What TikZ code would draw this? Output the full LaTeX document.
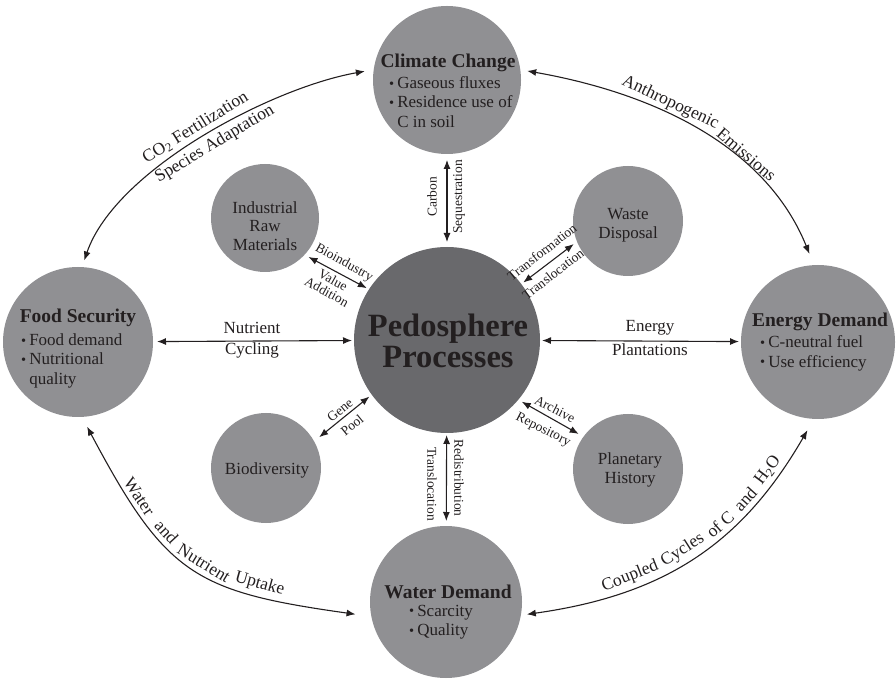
\documentclass[tikz,border=0pt]{standalone}
\usepackage{fontspec}
\setmainfont{Liberation Serif}
\usepackage{graphicx}
\usetikzlibrary{arrows.meta}
\definecolor{circgray}{RGB}{144,144,147}
\definecolor{coregray}{RGB}{105,105,108}
\definecolor{ink}{RGB}{35,31,32}
\newcommand{\fsreg}{\fontsize{17}{19.5}\selectfont}
\newcommand{\fscurve}{\fontsize{17.5}{19.5}\selectfont}
\newcommand{\fsin}{\fontsize{17}{18.5}\selectfont}
\newcommand{\fshead}{\fontsize{19.5}{22}\selectfont\bfseries}
\newcommand{\fscore}{\fontsize{32.5}{31}\selectfont\bfseries}
\newcommand{\fssmall}{\fontsize{13.5}{13}\selectfont}
\newcommand{\bul}{\raisebox{0.02em}{\scalebox{0.85}{\textbullet}}}
\begin{document}
\begin{tikzpicture}[x=1pt,y=1pt,
  circ/.style={circle, fill=circgray, draw=none, inner sep=0pt, outer sep=0pt, minimum size=#1},
  arr/.style={{Latex[length=9pt,width=7pt]}-{Latex[length=9pt,width=7pt]}, line width=1.1pt, draw=ink},
  txt/.style={text=ink, inner sep=0pt, font=\fsreg},
  intxt/.style={text=ink, inner sep=0pt, font=\fsin, align=center},
  head/.style={text=ink, inner sep=0pt, font=\fshead},
  lab/.style={text=ink, inner sep=0pt, font=\fssmall, align=center},
  clab/.style={text=ink, inner sep=1pt, font=\fscurve, sloped},
]
\useasboundingbox (0,0) rectangle (896,683);

% circles
\node[circ=186pt, fill=coregray] (core) at (447,343) {};
\node[circ=148pt] (cc) at (447,603) {};
\node[circ=152pt] (wd) at (446,81) {};
\node[circ=150pt] (fs) at (78,341) {};
\node[circ=154pt] (ed) at (818,341) {};
\node[circ=108pt] (irm) at (265,465) {};
\node[circ=110pt] (waste) at (628,462) {};
\node[circ=110pt] (bio) at (266,215) {};
\node[circ=110pt] (plan) at (628,214) {};

% texts in circles
\node[font=\fscore, text=ink, align=center, inner sep=0pt] (coretxt) at (448,342) {Pedosphere\\Processes};

\node[head] (cchead) at (448,620) {Climate Change};
\node[txt, anchor=west] (cclist) at (389,579) {\begin{tabular}{@{}l@{\hspace{3pt}}l@{}}\bul & Gaseous fluxes\\ \bul & Residence use of\\ & C in soil\end{tabular}};

\node[head] (fshead) at (78,365) {Food Security};
\node[txt, anchor=west] (fslist) at (21,322) {\begin{tabular}{@{}l@{\hspace{3pt}}l@{}}\bul & Food demand\\ \bul & Nutritional\\ & quality\end{tabular}};

\node[head] (edhead) at (820,361) {Energy Demand};
\node[txt, anchor=west] (edlist) at (760,329.5) {\begin{tabular}{@{}l@{\hspace{3pt}}l@{}}\bul & C-neutral fuel\\ \bul & Use efficiency\end{tabular}};

\node[head] (wdhead) at (448,91) {Water Demand};
\node[txt, anchor=west] (wdlist) at (409,61) {\begin{tabular}{@{}l@{\hspace{3pt}}l@{}}\bul & Scarcity\\ \bul & Quality\end{tabular}};

\node[intxt] (irmtxt) at (265,457) {Industrial\\Raw\\Materials};
\node[intxt] (wastetxt) at (628,458) {Waste\\Disposal};
\node[intxt] (biotxt) at (267,213) {Biodiversity};
\node[intxt] (plantxt) at (630,213) {Planetary\\History};

% straight connectors
\draw[arr, shorten <=4pt, shorten >=2pt] (fs) -- (core);
\draw[arr, shorten <=2pt, shorten >=2pt] (core) -- (ed);
\draw[arr, shorten <=5pt, shorten >=6pt] (core) -- (cc);
\draw[arr, shorten <=2pt, shorten >=5pt] (core) -- (wd);
\draw[arr, shorten <=4.5pt, shorten >=2.5pt] (irm.317) -- (core.147);
\draw[arr, shorten <=2.5pt, shorten >=4pt] (core.37) -- (waste.202);
\draw[arr, shorten <=6.5pt, shorten >=3pt] (bio.29) -- (core.216);
\draw[arr, shorten <=4pt, shorten >=5.5pt] (core.320) -- (plan.144);

\node[txt] (lnut) at (252,355) {Nutrient};
\node[txt] (lcyc1) at (252,333) {Cycling};
\node[txt] (lene) at (650,355) {Energy};
\node[txt] (lpla) at (650,333) {Plantations};

\node[lab, rotate=-29] (lbio) at (344,420) {Bioindustry};
\node[lab, rotate=-29] (lval) at (330,397) {Value\\Addition};
\node[lab, rotate=38] (ltrf) at (542,431) {Transformation};
\node[lab, rotate=38] (ltrl) at (553,409) {Translocation};
\node[lab, rotate=39] (lgene) at (340,273) {Gene};
\node[lab, rotate=39] (lpool) at (352,258) {Pool};
\node[lab, rotate=-27] (larc) at (555,274) {Archive};
\node[lab, rotate=-27] (lrep) at (543,253) {Repository};
\node[lab, rotate=90] (lcarb) at (432,486) {Carbon};
\node[lab, rotate=90] (lseq) at (459,486) {Sequestration};
\node[lab, rotate=-90] (ltrans) at (432,199) {Translocation};
\node[lab, rotate=-90] (lredis) at (459,205) {Redistribution};

% curved connectors
\draw[arr, shorten <=7pt, shorten >=9pt] (fs.87) to[out=71, in=190, looseness=0.75]
  node[clab, pos=0.5, above=4pt] (lco) {CO\textsubscript{2} Fertilization}
  node[clab, pos=0.52, below=2pt] (lsp) {Species Adaptation} (cc.172);

\draw[arr, shorten <=7pt, shorten >=12pt] (cc.8) to[out=-10, in=112, looseness=0.95]
  node[clab, pos=0.4, above=2pt] (lanth) {Anthropogenic}
  node[clab, pos=0.65, above=2pt] (lemis) {Emissions} (ed.93);

\draw[arr, shorten <=11pt, shorten >=16pt] (fs.273) to[out=-62, in=172, looseness=1.3]
  node[clab, pos=0.22, above=2pt] (lwat) {Water}
  node[clab, pos=0.355, above=2pt] (land) {and}
  node[clab, pos=0.53, above=2pt] (lnutr) {Nutrient}
  node[clab, pos=0.73, above=2pt] (lupt) {Uptake} (wd.191);

\draw[arr, shorten <=6pt, shorten >=13pt] (wd.350) to[out=8, in=240, looseness=1.05]
  node[clab, pos=0.302, above=2pt] (lcoup) {Coupled}
  node[clab, pos=0.482, above=2pt] (lcycl) {Cycles}
  node[clab, pos=0.622, above=2pt] (lofc) {of C}
  node[clab, pos=0.727, above=2pt] (land2) {and}
  node[clab, pos=0.83, above=2pt] (lhtwo) {H\textsubscript{2}O} (ed.267);
\end{tikzpicture}
\end{document}
